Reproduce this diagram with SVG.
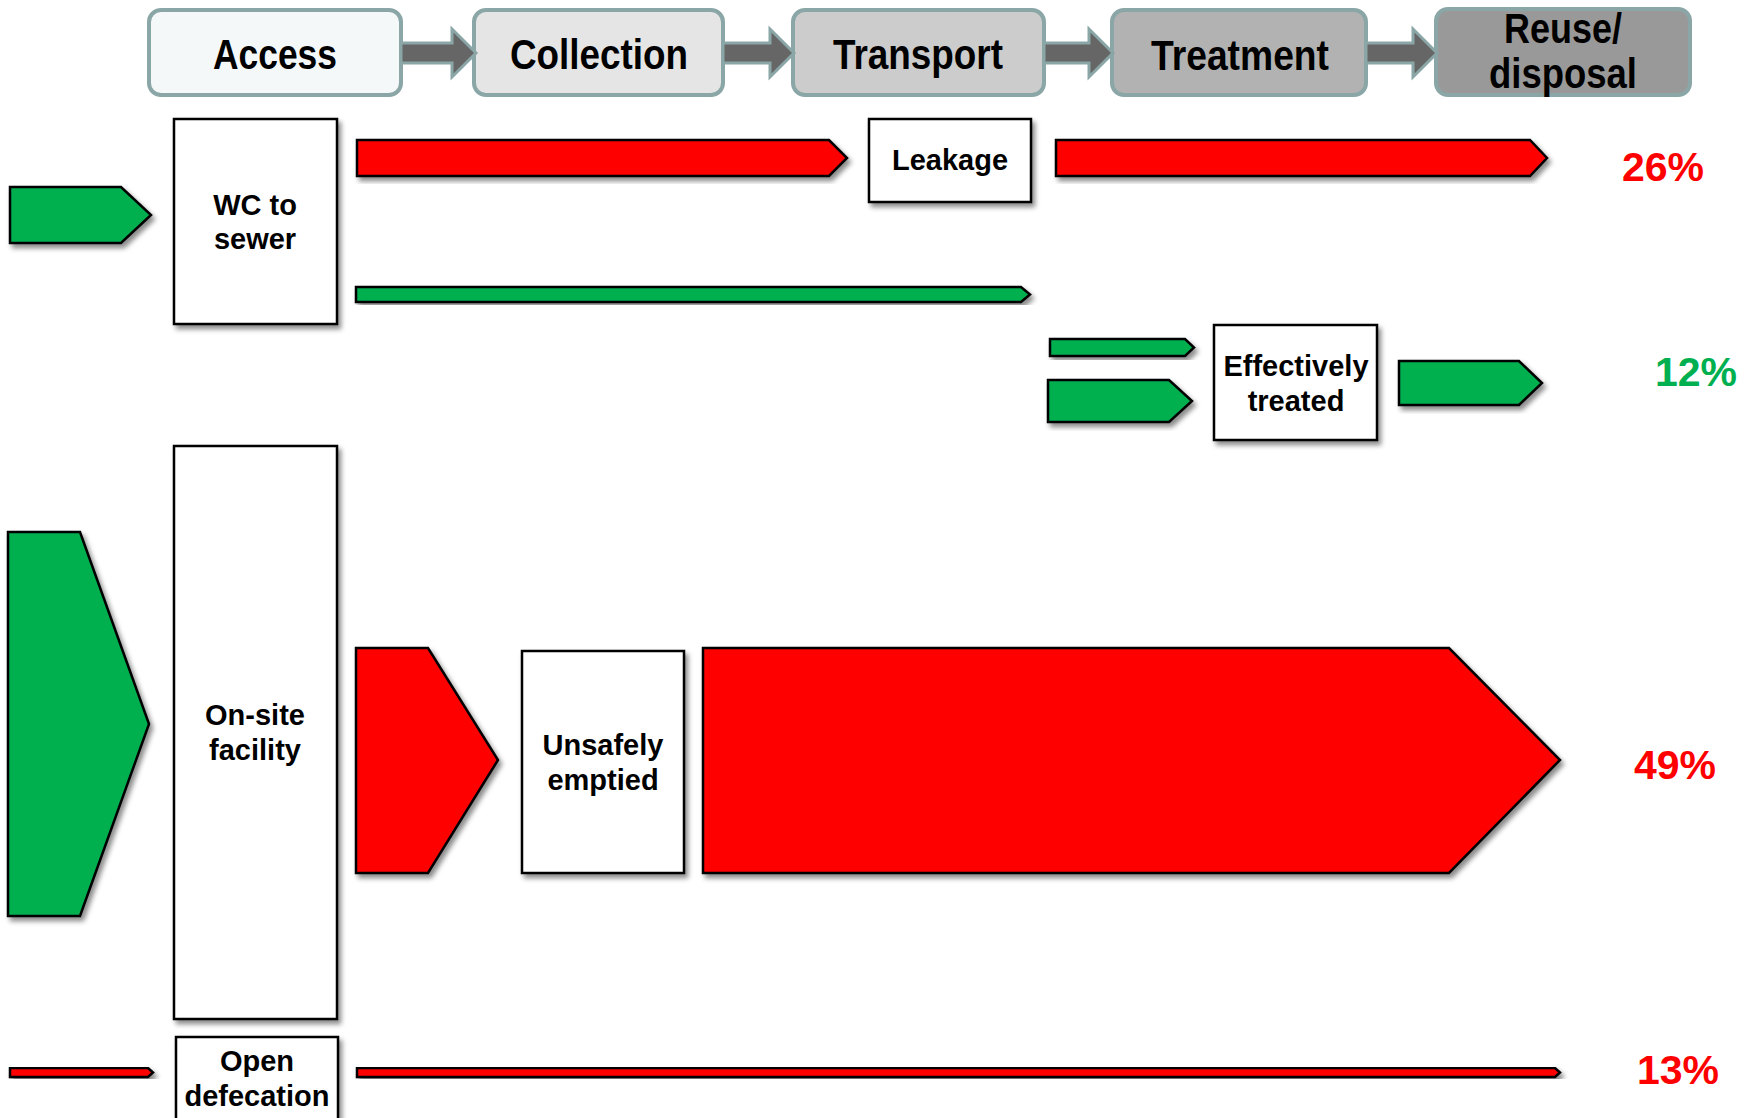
<svg xmlns="http://www.w3.org/2000/svg" width="1756" height="1118" viewBox="0 0 1756 1118">
<defs>
<filter id="sh" x="-10%" y="-10%" width="130%" height="130%">
<feDropShadow dx="3" dy="4" stdDeviation="2.5" flood-color="#000" flood-opacity="0.45"/>
</filter>
</defs>
<style>
.hb{stroke:#8BA6A6;stroke-width:4}
.hd{font-family:"Liberation Sans",Arial,sans-serif;font-weight:bold;font-size:42px;fill:#000;text-anchor:middle}
.ha{fill:#666666;stroke:#8BA6A6;stroke-width:3;stroke-linejoin:miter}
.box{fill:#fff;stroke:#000;stroke-width:2.5;filter:url(#sh)}
.bt{font-family:"Liberation Sans",Arial,sans-serif;font-weight:bold;font-size:29px;fill:#000;text-anchor:middle}
.r{fill:#FF0000;stroke:#000;stroke-width:2.5;stroke-linejoin:miter;filter:url(#sh)}
.g{fill:#00B050;stroke:#000;stroke-width:2.5;stroke-linejoin:miter;filter:url(#sh)}
.pc{font-family:"Liberation Sans",Arial,sans-serif;font-weight:bold;font-size:41px;text-anchor:middle}
</style>
<rect width="1756" height="1118" fill="#fff"/>

<g id="header">
<g id="h-access"><rect class="hb" x="149" y="10" width="252" height="85" rx="12" fill="#F4F8F9"/><text class="hd" x="275" y="69" textLength="124" lengthAdjust="spacingAndGlyphs">Access</text></g>
<g id="h-collection"><rect class="hb" x="474" y="10" width="249" height="85" rx="12" fill="#E5E5E5"/><text class="hd" x="599" y="69" textLength="178" lengthAdjust="spacingAndGlyphs">Collection</text></g>
<g id="h-transport"><rect class="hb" x="793" y="10" width="251" height="85" rx="12" fill="#CCCCCC"/><text class="hd" x="918" y="69" textLength="170" lengthAdjust="spacingAndGlyphs">Transport</text></g>
<g id="h-treatment"><rect class="hb" x="1112" y="10" width="254" height="85" rx="12" fill="#B2B2B2"/><text class="hd" x="1240" y="70" textLength="178" lengthAdjust="spacingAndGlyphs">Treatment</text></g>
<g id="h-reuse"><rect class="hb" x="1436" y="9" width="254" height="86" rx="12" fill="#999999"/><text class="hd" x="1563" y="43" textLength="118" lengthAdjust="spacingAndGlyphs">Reuse/</text><text class="hd" x="1563" y="88" textLength="148" lengthAdjust="spacingAndGlyphs">disposal</text></g>
</g>

<g id="connectors">
<polygon class="ha" points="401,43 452,43 452,29 476,53 452,77 452,63 401,63"/>
<polygon class="ha" points="723,43 770,43 770,29 794,53 770,77 770,63 723,63"/>
<polygon class="ha" points="1044,43 1089,43 1089,29 1113,53 1089,77 1089,63 1044,63"/>
<polygon class="ha" points="1366,43 1413,43 1413,29 1437,53 1413,77 1413,63 1366,63"/>
</g>

<g id="flows">
<polygon class="g" points="10,187 121,187 151,215 121,243 10,243"/>
<polygon class="r" points="357,140 829,140 847,158 829,176 357,176"/>
<polygon class="r" points="1056,140 1530,140 1547,158 1530,176 1056,176"/>
<polygon class="g" points="356,287 1021,287 1030,294.5 1021,302 356,302"/>
<polygon class="g" points="1050,339 1185,339 1194,347.5 1185,356 1050,356"/>
<polygon class="g" points="1048,380 1169,380 1192,401 1169,422 1048,422"/>
<polygon class="g" points="1399,361 1519,361 1542,383 1519,405 1399,405"/>
<polygon class="g" points="8,532 80,532 149,724 80,916 8,916"/>
<polygon class="r" points="356,648 428,648 498,760 428,873 356,873"/>
<polygon class="r" points="703,648 1449,648 1560,760 1449,873 703,873"/>
<polygon class="r" points="10,1068 148,1068 153,1072.5 148,1077 10,1077"/>
<polygon class="r" points="357,1068 1555,1068 1560,1072.5 1555,1077 357,1077"/>
</g>

<g id="wc-sewer"><rect class="box" x="174" y="119" width="163" height="205"/><text class="bt" x="255" y="215">WC to</text><text class="bt" x="255" y="249">sewer</text></g>
<g id="leakage"><rect class="box" x="869" y="119" width="162" height="83"/><text class="bt" x="950" y="170">Leakage</text></g>
<g id="effectively-treated"><rect class="box" x="1214" y="325" width="163" height="115"/><text class="bt" x="1296" y="376">Effectively</text><text class="bt" x="1296" y="411">treated</text></g>
<g id="on-site"><rect class="box" x="174" y="446" width="163" height="573"/><text class="bt" x="255" y="725">On-site</text><text class="bt" x="255" y="760">facility</text></g>
<g id="unsafely-emptied"><rect class="box" x="522" y="651" width="162" height="222"/><text class="bt" x="603" y="755">Unsafely</text><text class="bt" x="603" y="790">emptied</text></g>
<g id="open-defecation"><rect class="box" x="176" y="1037" width="162" height="95"/><text class="bt" x="257" y="1071">Open</text><text class="bt" x="257" y="1106">defecation</text></g>

<g id="percentages">
<text class="pc" x="1663" y="181" fill="#FF0000">26%</text>
<text class="pc" x="1696" y="386" fill="#00B050">12%</text>
<text class="pc" x="1675" y="779" fill="#FF0000">49%</text>
<text class="pc" x="1678" y="1084" fill="#FF0000">13%</text>
</g>
</svg>
